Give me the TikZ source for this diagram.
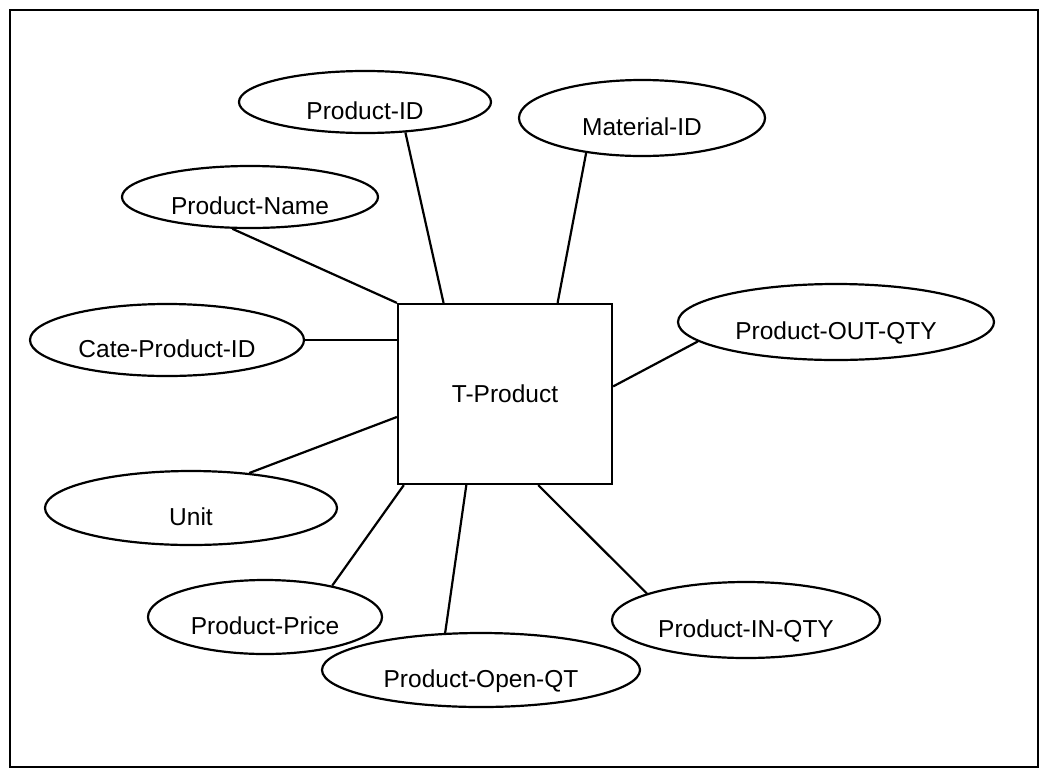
\documentclass[tikz,border=0pt]{standalone}
\usepackage{fontspec}
\setmainfont{Liberation Sans}
\usetikzlibrary{shapes.geometric}
\usetikzlibrary{shapes}

\begin{document}
\begin{tikzpicture}[x=1pt, y=-1pt, line width=2.2pt,
        every node/.style={font=\fontsize{24.5}{29}\selectfont},
        attr/.style={draw, ellipse, inner sep=0pt, text height=35.5pt, text depth=0pt},
        entity/.style={draw, rectangle, minimum width=214pt, minimum height=180pt}]
        \useasboundingbox (0, 0) rectangle (1043, 774);
        \draw (10, 10) rectangle (1038, 767);

        \node[entity] (prod) at (505, 394) {T-Product};

        \node[attr, minimum width=252pt, minimum height=62pt] (pid) at (365, 102) {Product-ID};
        \node[attr, minimum width=256pt, minimum height=62pt] (pname) at (250, 197) {Product-Name};
        \node[attr, minimum width=274pt, minimum height=72pt] (cate) at (167, 340) {Cate-Product-ID};
        \node[attr, minimum width=246pt, minimum height=76pt] (mat) at (642, 118) {Material-ID};
        \node[attr, minimum width=316pt, minimum height=76pt] (pout) at (836, 322) {Product-OUT-QTY};
        \node[attr, minimum width=292pt, minimum height=74pt] (unit) at (191, 508) {Unit};
        \node[attr, minimum width=234pt, minimum height=74pt] (price) at (265, 617) {Product-Price};
        \node[attr, minimum width=318pt, minimum height=74pt] (popen) at (481, 670) {Product-Open-QT};
        \node[attr, minimum width=268pt, minimum height=76pt] (pin) at (746, 620) {Product-IN-QTY};

        \draw (pid.-37) -- (prod.124);
        \draw (pname.-119) -- (prod.north west);
        \draw (cate.east) -- (cate.east -| prod.west);
        \draw (mat.-148) -- (prod.60);
        \draw (pout.-172) -- (prod.4);
        \draw (unit.31) -- (prod.192);
        \draw (price.25) -- (prod.222);
        \draw (popen.134) -- (prod.247);
        \draw (pin.165) -- (prod.290);
\end{tikzpicture}
\end{document}
